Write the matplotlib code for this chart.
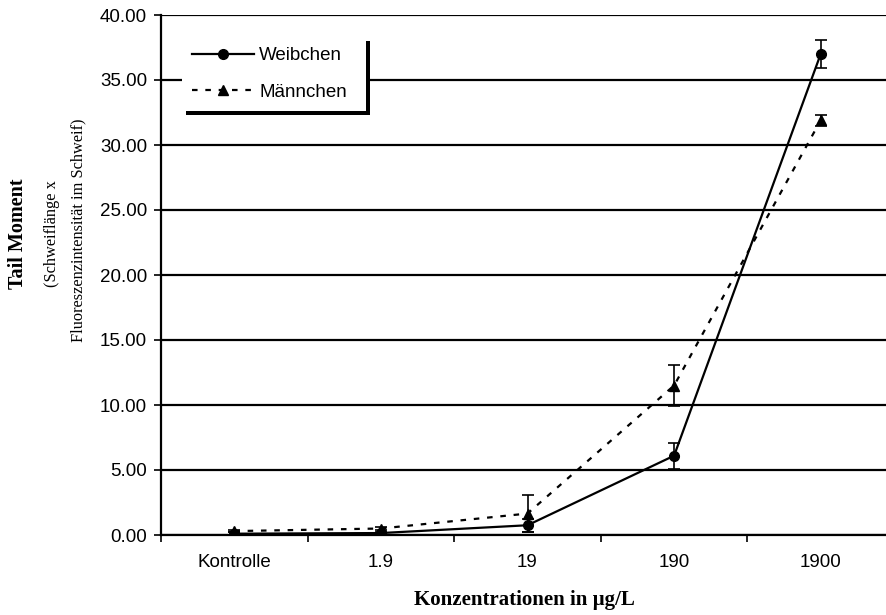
import numpy as np
import matplotlib.pyplot as plt

# Tail moment per concentration group
categories = ['Kontrolle', '1.9', '19', '190', '1900']
weibchen = [0.10, 0.15, 0.75, 6.10, 37.0]
weibchen_err = [0.10, 0.10, 0.50, 1.00, 1.05]
maennchen = [0.30, 0.50, 1.65, 11.5, 31.9]
maennchen_err = [0.10, 0.10, 1.40, 1.55, 0.40]

plt.rcParams['font.family'] = ['Liberation Sans', 'DejaVu Sans']

fig = plt.figure(figsize=(8.87, 6.15), dpi=100)
ax = fig.add_axes([161 / 887, 1 - 535 / 615, 733 / 887, 520 / 615])

x = np.arange(len(categories))

# error bars first, then the lines with markers on top
ax.errorbar(x, weibchen, yerr=weibchen_err, fmt='none', ecolor='black',
            capsize=4, elinewidth=1.2, capthick=1.2, zorder=3)
ax.errorbar(x, maennchen, yerr=maennchen_err, fmt='none', ecolor='black',
            capsize=4, elinewidth=1.2, capthick=1.2, zorder=3)
ax.plot(x, weibchen, color='black', lw=1.6, marker='o', markersize=7,
        label='Weibchen', zorder=4)
ax.plot(x, maennchen, color='black', lw=1.6, ls=(0, (2.5, 3.5)),
        marker='^', markersize=7, label='Männchen', zorder=4)

ax.set_xlim(-0.5, len(categories) - 0.5)
ax.set_ylim(0, 40)
ax.set_yticks(np.arange(0, 45, 5))
ax.set_yticklabels(['%.2f' % v for v in np.arange(0, 45, 5)], fontsize=13.5)
ax.yaxis.grid(True, color='black', lw=1.6)
ax.set_axisbelow(True)

ax.set_xticks(x)
ax.set_xticklabels(categories, fontsize=13.5)
ax.set_xticks(np.arange(-0.5, len(categories), 1), minor=True)
ax.tick_params(axis='x', which='major', length=0, pad=14)
ax.tick_params(axis='x', which='minor', length=5, width=1.2, direction='out')
ax.tick_params(axis='y', length=5, width=1.2, direction='out', pad=5)

for side in ['top', 'right']:
    ax.spines[side].set_visible(False)
for side in ['left', 'bottom']:
    ax.spines[side].set_linewidth(1.6)

leg = ax.legend(loc='upper left', bbox_to_anchor=(0.028, 0.0, 0.252, 0.958),
                mode='expand', borderaxespad=0, fontsize=13.5,
                handlelength=3.3, handletextpad=0.3, labelspacing=1.02,
                fancybox=False, framealpha=1, borderpad=0.55,
                shadow={'color': 'black', 'alpha': 1, 'ox': 3, 'oy': -3})
leg.get_frame().set_edgecolor('white')
leg.get_frame().set_linewidth(0)

# y axis title in three lines
fig.text(18 / 887, 1 - 234 / 615, 'Tail Moment', rotation=90, ha='center',
         va='center', family='Liberation Serif', weight='bold', fontsize=14.5)
fig.text(52 / 887, 1 - 234 / 615, '(Schweiflänge x', rotation=90,
         ha='center', va='center', family='Liberation Serif', fontsize=11.8)
fig.text(78 / 887, 1 - 230 / 615, 'Fluoreszenzintensität im Schweif)',
         rotation=90, ha='center', va='center', family='Liberation Serif',
         fontsize=11.8)

fig.text(524 / 887, 1 - 600 / 615, 'Konzentrationen in µg/L', ha='center',
         va='center', family='Liberation Serif', weight='bold', fontsize=15)

fig.savefig('out.png', dpi=100)
